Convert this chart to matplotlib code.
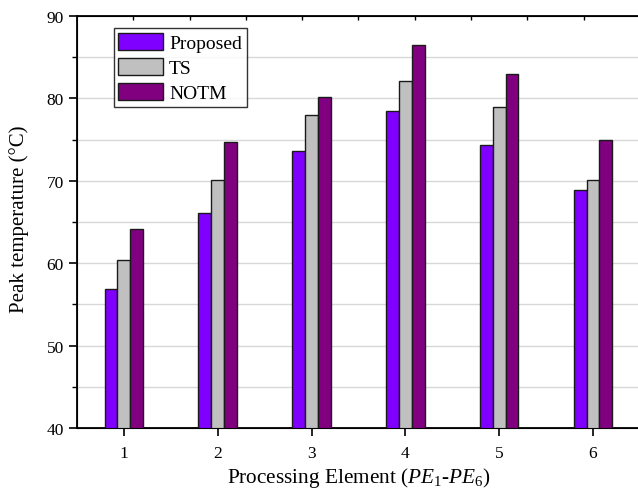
import numpy as np
import matplotlib
matplotlib.use("Agg")
import matplotlib.pyplot as plt

plt.rcParams['font.family'] = ['Liberation Serif', 'DejaVu Serif']
plt.rcParams['mathtext.fontset'] = 'custom'
plt.rcParams['mathtext.rm'] = 'Liberation Serif'
plt.rcParams['mathtext.it'] = 'Liberation Serif:italic'

# data
elements = [1, 2, 3, 4, 5, 6]
proposed = [56.9, 66.1, 73.6, 78.5, 74.4, 68.9]
ts = [60.4, 70.1, 78.0, 82.1, 79.0, 70.1]
notm = [64.1, 74.7, 80.2, 86.5, 83.0, 75.0]
series_names = ["Proposed", "TS", "NOTM"]
colors = ["#8000FF", "#C0C0C0", "#800080"]

fig = plt.figure(figsize=(6.38, 4.89), dpi=100)
ax = fig.add_axes([0.1207, 0.1227, 0.8823, 0.8425])

x = np.array(elements, dtype=float)
w = 0.137
for i, (vals, name, c) in enumerate(zip([proposed, ts, notm], series_names, colors)):
    ax.bar(x + (i - 1) * w, vals, width=w, color=c, edgecolor="#1a1a1a",
           linewidth=1.0, label=name, zorder=3)

ax.set_xlim(0.5, 6.5)
ax.set_ylim(40, 90)
ax.set_xticks(elements)
ax.set_yticks(range(40, 91, 10))
ax.set_yticks(range(45, 90, 10), minor=True)
for yv in range(45, 90, 5):
    ax.axhline(yv, color="#d8d8d8", lw=1.0, zorder=1)

ax.tick_params(axis='both', which='major', direction='out', length=6, width=1.2,
               labelsize=12.5)
ax.tick_params(axis='x', which='major', pad=6)
ax.tick_params(axis='y', which='minor', direction='out', length=3.5, width=1.0)
ax.tick_params(axis='x', which='minor', bottom=False)
for s in ['left', 'bottom', 'top']:
    ax.spines[s].set_linewidth(1.3)
ax.spines['right'].set_visible(False)

# top axis ticks from the original plot
top = ax.twiny()
top.set_xlim(0, 10)
top.set_xticks(range(1, 10))
top.tick_params(axis='x', direction='in', length=3, width=1.0, labeltop=False)
top.spines['right'].set_visible(False)

ax.set_xlabel(r"Processing Element ($PE_1$-$PE_6$)", fontsize=15.3, labelpad=3)
ax.set_ylabel("Peak temperature (°C)", fontsize=15)
ax.yaxis.set_label_coords(-0.086, 0.51)

leg = ax.legend(loc='upper left', bbox_to_anchor=(0.065, 0.971), fontsize=14,
                frameon=True, fancybox=False, edgecolor='black',
                handlelength=2.3, handleheight=0.95, handletextpad=0.3,
                borderpad=0.25, labelspacing=0.32, borderaxespad=0)
leg.get_frame().set_linewidth(1.0)

fig.savefig("out.png", dpi=100)
